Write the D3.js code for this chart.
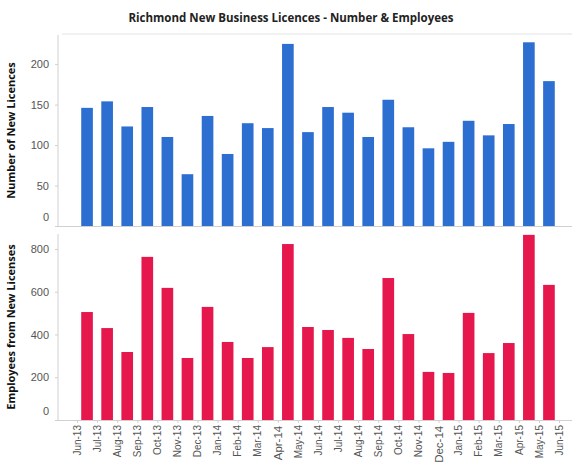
<!DOCTYPE html>
<html>
<head>
<meta charset="utf-8">
<script src="https://cdn.jsdelivr.net/npm/d3@7"></script>
<style>
  html, body { margin: 0; padding: 0; background: #fff; }
  svg { display: block; font-family: "Open Sans", "Noto Sans", sans-serif; }
  .axis path, .axis line { stroke: #d0d0d0; }
  .axis text { fill: #555; }
</style>
</head>
<body>
<svg id="chart" width="576" height="470"></svg>
<script>
// Month boundary labels (bars sit between consecutive labels)
const monthLabels = ["Jun-13","Jul-13","Aug-13","Sep-13","Oct-13","Nov-13","Dec-13",
  "Jan-14","Feb-14","Mar-14","Apr-14","May-14","Jun-14","Jul-14","Aug-14","Sep-14",
  "Oct-14","Nov-14","Dec-14","Jan-15","Feb-15","Mar-15","Apr-15","May-15","Jun-15"];

// Number of new business licences per month
const licences = [146,154,123,147,110,64,136,89,127,121,225,
  116,147,140,110,156,122,96,104,130,112,126,227,179];

// Employees from new licences per month
const employees = [505,430,318,763,618,290,529,365,290,341,823,
  435,421,384,332,664,402,225,220,501,313,360,866,632];

const licenceTicks = [0,50,100,150,200];
const employeeTicks = [0,200,400,600,800];

const svg = d3.select("#chart");
const left = 58, right = 572;
const xStart = 77, xEnd = 559;

const idx = d3.range(licences.length);
const xBand = d3.scaleBand().domain(idx).range([xStart, xEnd])
  .paddingInner(0.42).paddingOuter(0.21);
const xPoint = d3.scalePoint().domain(monthLabels).range([xStart, xEnd]);

// Title
svg.append("text")
  .attr("x", 291).attr("y", 22)
  .attr("text-anchor", "middle")
  .attr("font-size", 11.5).attr("font-weight", "bold").attr("fill", "#222")
  .text("Richmond New Business Licences - Number & Employees");

// Panel frame line under the title
svg.append("line").attr("x1", 62).attr("x2", 572).attr("y1", 34).attr("y2", 34)
  .attr("stroke", "#e2e2e2");

function panel(values, ticks, yTop, yBottom, maxV, color, title) {
  const y = d3.scaleLinear().domain([0, maxV]).range([yBottom, yTop]);

  svg.append("g").selectAll("rect").data(values).join("rect")
    .attr("x", (d, i) => xBand(i))
    .attr("width", xBand.bandwidth())
    .attr("y", d => y(d))
    .attr("height", d => y(0) - y(d))
    .attr("fill", color);

  const yAxis = svg.append("g").attr("class", "axis")
    .attr("transform", `translate(${left},0)`)
    .call(d3.axisLeft(y).tickValues(ticks).tickSize(3).tickPadding(6));
  yAxis.select(".domain").attr("d", `M0,${yTop}V${yBottom}`);
  yAxis.selectAll("text").attr("font-size", 11);
  // the zero label sits a little above the baseline
  yAxis.selectAll(".tick").filter(d => d === 0).select("text").attr("y", -9);

  // baseline
  svg.append("line").attr("x1", left).attr("x2", right)
    .attr("y1", yBottom + 0.5).attr("y2", yBottom + 0.5)
    .attr("stroke", "#d0d0d0");

  svg.append("text")
    .attr("transform", `translate(15,${(yTop + yBottom) / 2}) rotate(-90)`)
    .attr("text-anchor", "middle")
    .attr("font-size", 11).attr("font-weight", "bold").attr("fill", "#111")
    .text(title);
  return y;
}

panel(licences, licenceTicks, 35, 226, 236, "#2d6ed1", "Number of New Licences");
panel(employees, employeeTicks, 234, 420, 870, "#e6174c", "Employees from New Licenses");

// Month axis along the bottom
const xAxis = svg.append("g").attr("class", "axis")
  .attr("transform", "translate(0,420)")
  .call(d3.axisBottom(xPoint).tickSize(3).tickPadding(4));
xAxis.select(".domain").remove();
xAxis.selectAll("text")
  .attr("transform", "rotate(-90)")
  .attr("text-anchor", "end")
  .attr("dx", "-0.5em").attr("dy", "0.32em")
  .attr("x", 0).attr("y", 0)
  .attr("font-size", 10)
  .attr("fill", "#444");
xAxis.selectAll(".tick")
  .filter(d => d === "Apr-14" || d === "Dec-14")
  .select("text").attr("font-size", 11.5).attr("fill", "#111");
</script>
</body>
</html>
